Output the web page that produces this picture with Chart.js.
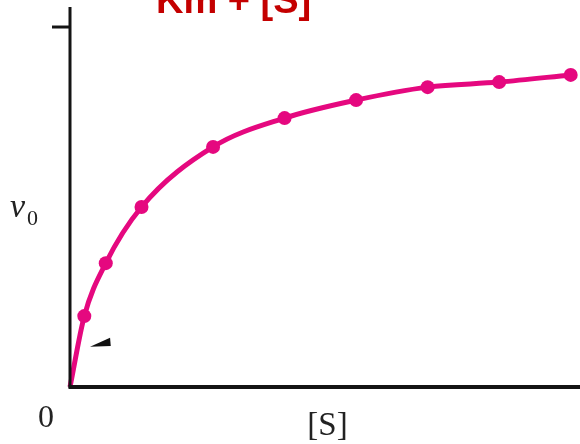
<!DOCTYPE html>
<html>
<head>
<meta charset="utf-8">
<script src="https://cdn.jsdelivr.net/npm/chart.js@4.4.0/dist/chart.umd.min.js"></script>
<style>
  html, body { margin: 0; padding: 0; background: #fff; }
  #wrap { width: 580px; height: 444px; position: relative; }
</style>
</head>
<body>
<div id="wrap"><canvas id="c" width="580" height="444"></canvas></div>
<script>
// Substrate concentration [S] (arbitrary units) and initial velocity v0 (fraction of Vmax)
const substrate = [0, 0.2, 0.5, 1, 2, 3, 4, 5, 6, 7];
const velocity  = [0, 0.197, 0.344, 0.5, 0.667, 0.747, 0.797, 0.833, 0.847, 0.867];
const yTickValues = [1];           // Vmax tick
const titleText = "Km + [S]";
const xLabel = "[S]";
const yLabel = "v";
const yLabelSub = "0";
const originLabel = "0";

const pink = '#e5087f';
const axisColor = '#141414';

const points = substrate.map((s, i) => ({ x: s, y: velocity[i] }));

const decor = {
  id: 'decor',
  afterDraw(chart) {
    const ctx = chart.ctx;
    const xs = chart.scales.x, ys = chart.scales.y;
    const x0 = xs.getPixelForValue(0), y0 = ys.getPixelForValue(0);
    const xEnd = xs.right, yTop = ys.top;
    ctx.save();
    // y axis
    ctx.strokeStyle = axisColor;
    ctx.lineWidth = 3;
    ctx.beginPath();
    ctx.moveTo(x0, yTop);
    ctx.lineTo(x0, y0 + 1);
    ctx.stroke();
    // x axis
    ctx.lineWidth = 4;
    ctx.beginPath();
    ctx.moveTo(x0 - 1.5, y0);
    ctx.lineTo(xEnd, y0);
    ctx.stroke();
    // y tick (Vmax)
    ctx.lineWidth = 3;
    yTickValues.forEach(v => {
      const yp = ys.getPixelForValue(v);
      ctx.beginPath();
      ctx.moveTo(x0 - 18, yp);
      ctx.lineTo(x0, yp);
      ctx.stroke();
    });
    // small arrowhead mark
    ctx.fillStyle = '#111';
    ctx.beginPath();
    ctx.moveTo(xs.getPixelForValue(0.28), ys.getPixelForValue(0.112));
    ctx.lineTo(xs.getPixelForValue(0.56), ys.getPixelForValue(0.137));
    ctx.lineTo(xs.getPixelForValue(0.57), ys.getPixelForValue(0.114));
    ctx.closePath();
    ctx.fill();
    // texts
    ctx.fillStyle = '#222';
    ctx.textBaseline = 'alphabetic';
    ctx.textAlign = 'center';
    ctx.font = '32px "Liberation Serif", "DejaVu Serif", serif';
    ctx.fillText(originLabel, 46, 427);
    ctx.font = '33px "Liberation Serif", "DejaVu Serif", serif';
    ctx.fillText(xLabel, xs.getPixelForValue(3.6), 435);
    ctx.textAlign = 'left';
    ctx.font = 'italic 34px "Liberation Serif", "DejaVu Serif", serif';
    ctx.fillText(yLabel, 10, 217);
    ctx.font = '22px "Liberation Serif", "DejaVu Serif", serif';
    ctx.fillText(yLabelSub, 27, 225);
    // title fragment
    ctx.fillStyle = '#c40000';
    ctx.font = 'bold 38px "Liberation Sans", Arial, sans-serif';
    ctx.fillText(titleText, 156, 13);
    ctx.restore();
  }
};

new Chart(document.getElementById('c'), {
  type: 'scatter',
  data: {
    datasets: [{
      data: points,
      showLine: true,
      borderColor: pink,
      backgroundColor: pink,
      borderWidth: 5,
      pointRadius: substrate.map((s, i) => i === 0 ? 0 : 7),
      pointBorderWidth: 0,
      pointBackgroundColor: pink,
      cubicInterpolationMode: 'monotone',
      clip: false
    }]
  },
  options: {
    responsive: false,
    animation: false,
    events: [],
    layout: { autoPadding: false, padding: { left: 70, right: 0, top: 7, bottom: 57 } },
    plugins: { legend: { display: false }, tooltip: { enabled: false } },
    scales: {
      x: { type: 'linear', display: false, min: 0, max: 7.13 },
      y: { type: 'linear', display: false, min: 0, max: 1.0556 }
    }
  },
  plugins: [decor]
});
</script>
</body>
</html>
